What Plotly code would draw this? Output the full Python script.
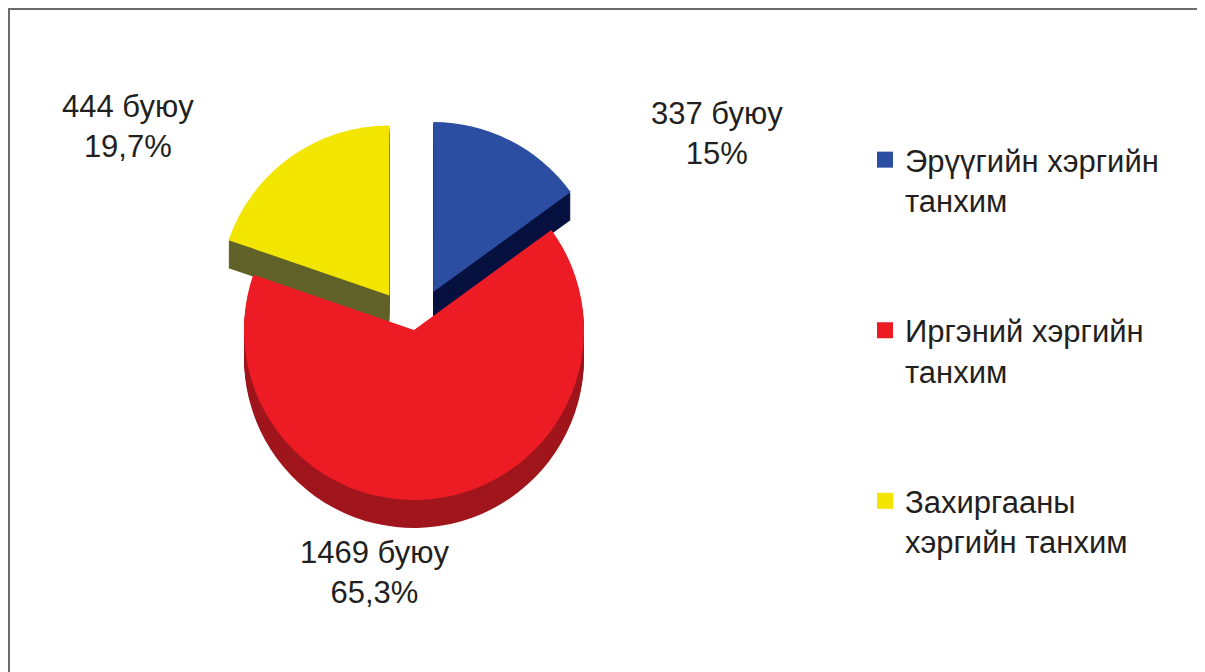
import plotly.graph_objects as go

# ---- data ----
categories = ["Эрүүгийн хэргийн<br>танхим", "Иргэний хэргийн<br>танхим", "Захиргааны<br>хэргийн танхим"]
counts = [337, 1469, 444]
percent_labels = ["15%", "65,3%", "19,7%"]
top_colors = ["#2b4ea2", "#ed1c24", "#f2e600"]
side_colors = ["#06113f", "#a0161c", "#606229"]
pulls = [0.25, 0.0, 0.25]

# page body has an 8px margin; work in figure pixels
W, H = 1197, 664
OFF = 8
FONT = "Liberation Sans, Arial, sans-serif"
TXT = "#231f20"

fig = go.Figure()

# pie geometry (reference pixels, shifted)
cx, cy = 414 - OFF, 330 - OFF
half = 212.5
depth, step = 28, 2

def dom(offset):
    x0 = (cx - half) / W
    x1 = (cx + half) / W
    y0 = 1 - (cy + offset + half) / H
    y1 = 1 - (cy + offset - half) / H
    return dict(x=[x0, x1], y=[y0, y1])

# side layers (pseudo-3D thickness)
for off in range(depth, 0, -step):
    fig.add_trace(go.Pie(
        values=counts, labels=categories, sort=False, direction="clockwise",
        rotation=0, pull=pulls, domain=dom(off), textinfo="none",
        hoverinfo="skip", showlegend=False,
        marker=dict(colors=side_colors, line=dict(width=0)),
    ))

# top faces
fig.add_trace(go.Pie(
    values=counts, labels=categories, sort=False, direction="clockwise",
    rotation=0, pull=pulls, domain=dom(0), textinfo="none",
    showlegend=False,
    marker=dict(colors=top_colors, line=dict(width=0)),
))

# legend entries
for i, (name, col) in enumerate(zip(categories, top_colors)):
    fig.add_trace(go.Scatter(
        x=[None], y=[None], mode="markers", name=name, legendgroup=str(i),
        marker=dict(symbol="square", size=16, color=col),
    ))

# data labels (reference pixel centres)
label_pos = [(717, 133), (374, 572), (128, 126)]
for n, p, (lx, ly) in zip(counts, percent_labels, label_pos):
    fig.add_annotation(
        x=(lx - OFF) / W, y=1 - (ly - OFF) / H, xref="paper", yref="paper",
        text=f"{n} буюу<br>{p}", showarrow=False,
        font=dict(family=FONT, size=31, color=TXT), align="center",
        xanchor="center", yanchor="middle",
    )

# frame (left, top, right)
fl, ft, fr = 1 / W, 1 - 1 / H, (1198 - OFF) / W
fig.add_shape(type="path", xref="paper", yref="paper",
              path=f"M {fl} 0 L {fl} {ft} L {fr} {ft} L {fr} 0",
              line=dict(color="#6b6b6b", width=2))

fig.update_layout(
    width=W, height=H, margin=dict(l=0, r=0, t=0, b=0),
    paper_bgcolor="white", plot_bgcolor="white",
    xaxis=dict(visible=False), yaxis=dict(visible=False),
    legend=dict(x=857 / W, y=1 - 125 / H, xanchor="left", yanchor="top",
                font=dict(family=FONT, size=31, color=TXT),
                tracegroupgap=87, valign="top", bgcolor="rgba(0,0,0,0)"),
    font=dict(family=FONT),
)

fig.write_html("out.html")
